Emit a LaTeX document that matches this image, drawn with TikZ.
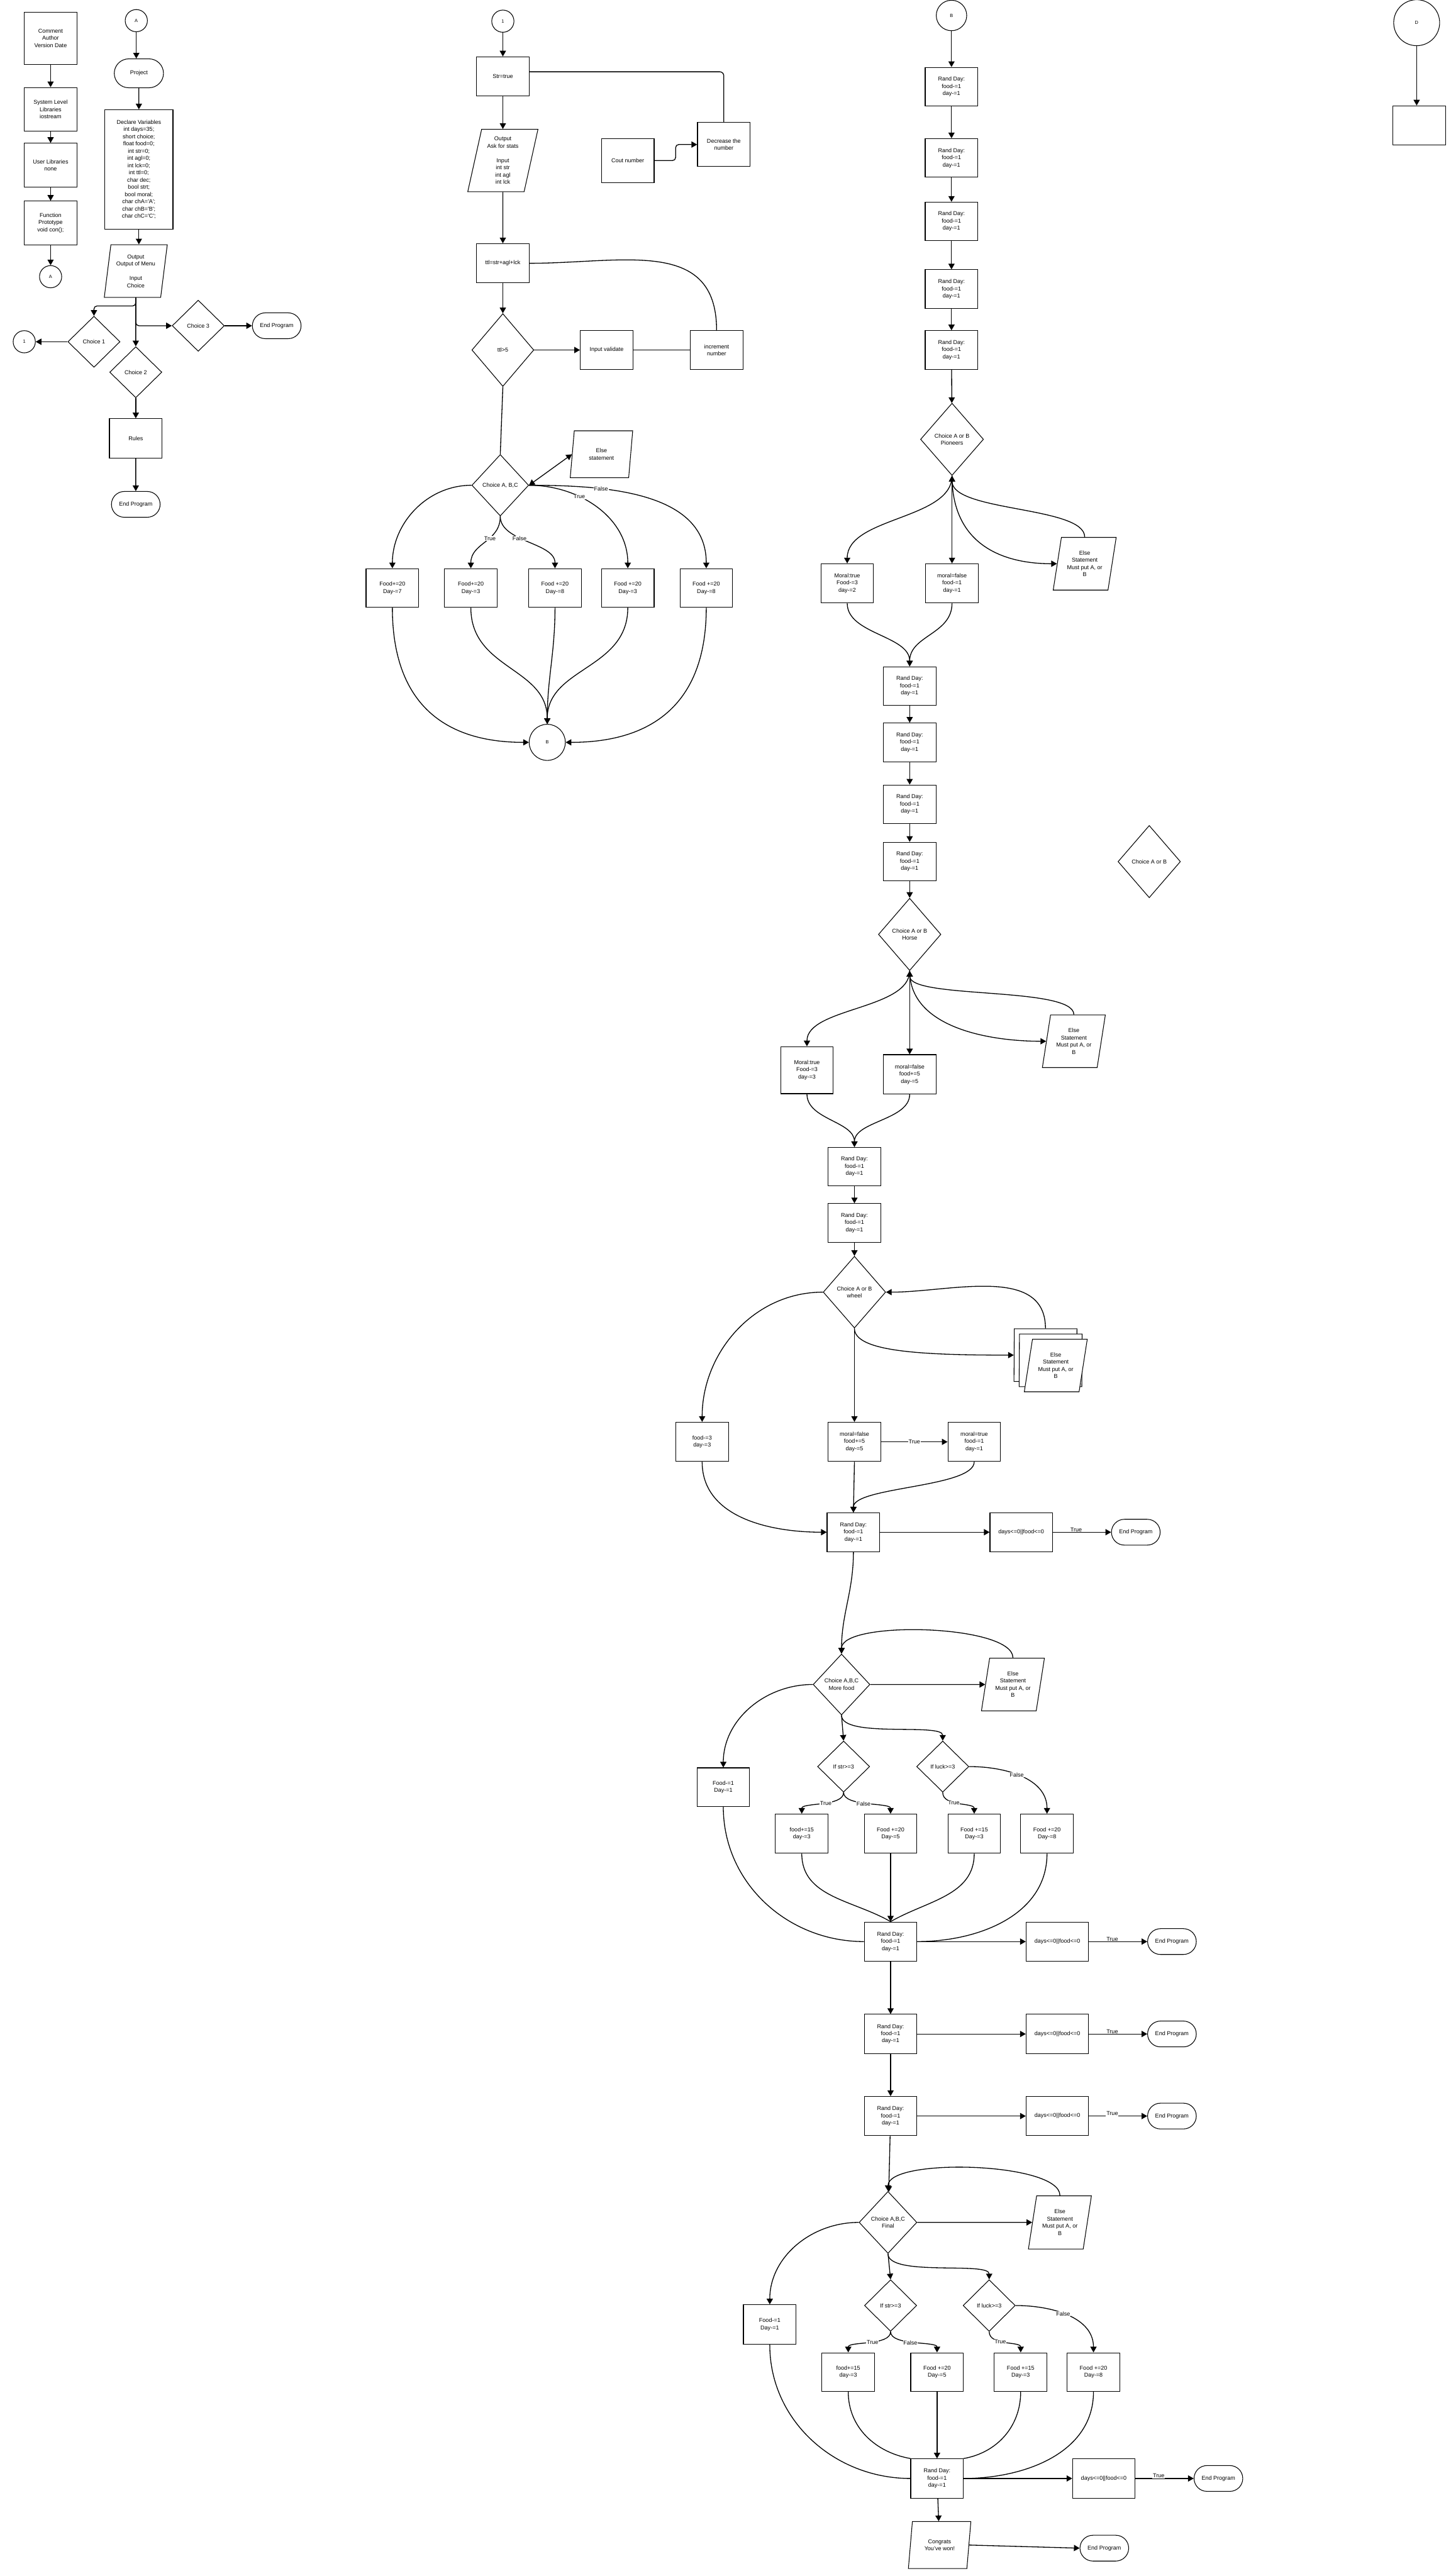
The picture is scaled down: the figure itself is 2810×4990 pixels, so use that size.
\documentclass[tikz,border=0pt]{standalone}
\usepackage{fontspec}
\setmainfont{Liberation Sans}
\usetikzlibrary{shapes.geometric,shapes.misc,arrows.meta}

\begin{document}
\begin{tikzpicture}[
  x=1pt, y=-1pt,
  font=\fontsize{11}{14}\selectfont,
  proc/.style={rectangle, draw, line width=1.3pt, align=center, inner sep=2pt, minimum width=102pt, minimum height=76pt},
  decis/.style={diamond, draw, line width=1.3pt, align=center, inner sep=0pt, minimum width=101pt, minimum height=99pt},
  io/.style={trapezium, trapezium left angle=73, trapezium right angle=107, trapezium stretches body, draw, line width=1.3pt, align=center, inner sep=1pt, minimum width=122pt, minimum height=102pt},
  term/.style={rounded rectangle, draw, line width=1.3pt, minimum width=101pt, minimum height=50pt},
  conn/.style={circle, draw, line width=1.3pt, inner sep=0pt, minimum size=43pt, font=\fontsize{9}{11}\selectfont},
  wire/.style={line width=1.6pt},
  arr/.style={wire, -{Triangle[length=11pt, width=12pt]}},
  arrb/.style={wire, {Triangle[length=11pt, width=12pt]}-{Triangle[length=11pt, width=12pt]}},
  lbl/.style={fill=white, inner sep=1pt}
]
\useasboundingbox (0,0) rectangle (2810,4990);

  % Program header (left column)
  \node[proc, minimum height=101pt] (cmt) at (98,74) {Comment\\Author\\Version Date};
  \node[proc, minimum height=85pt] (syslib) at (98,212) {System Level\\Libraries\\iostream};
  \node[proc, minimum height=85pt] (usrlib) at (98,320) {User Libraries\\none};
  \node[proc, minimum height=85pt] (proto) at (98,432) {Function\\Prototype\\void con();};
  \node[conn] (conA1) at (98,536) {A};

  % Main menu
  \node[conn] (conA2) at (264,40) {A};
  \node[term, minimum width=102pt, minimum height=56pt] (proj) at (269,142) {Project};
  \node[proc, minimum width=132pt, minimum height=231pt] (decl) at (269,328) {Declare Variables\\int days=35;\\short choice;\\float food=0;\\int str=0;\\int agl=0;\\int lck=0;\\int ttl=0;\\char dec;\\bool strt;\\bool moral;\\char chA=\textquotesingle A\textquotesingle;\\char chB=\textquotesingle B\textquotesingle;\\char chC=\textquotesingle C\textquotesingle;};
  \node[io, trapezium left angle=79, trapezium right angle=101] (menu) at (263,525) {Output\\Output of Menu\\[14pt]Input\\Choice};
  \node[decis] (ch1) at (182,662) {Choice 1};
  \node[conn] (con1) at (47,662) {1};
  \node[decis] (ch2) at (263,721) {Choice 2};
  \node[decis] (ch3) at (384,631) {Choice 3};
  \node[term] (endA) at (536,631) {End Program};
  \node[proc] (rules) at (263,849) {Rules};
  \node[term] (endB) at (263,977) {End Program};

  \draw[arr] (cmt) -- (syslib);
  \draw[arr] (syslib) -- (usrlib);
  \draw[arr] (usrlib) -- (proto);
  \draw[arr] (proto) -- (conA1);
  \draw[arr] (conA2) -- (conA2 |- proj.north);
  \draw[arr] (proj) -- (decl);
  \draw[arr] (decl) -- (decl |- menu.north);
  \draw[arr] (menu.south) -- (ch2.north);
  \draw[arr, rounded corners=6pt] (menu.south) -- ++(0,16) -| (ch1.north);
  \draw[arr, rounded corners=6pt] (menu.south) |- (ch3.west);
  \draw[arr] (ch1) -- (con1);
  \draw[arr] (ch3) -- (endA);
  \draw[arr] (ch2) -- (rules);
  \draw[arr] (rules) -- (endB);

  % Stats input
  \node[conn] (con1b) at (974,41) {1};
  \node[proc] (strt) at (974,148) {Str=true};
  \node[io, minimum width=136pt, minimum height=121pt, trapezium left angle=74, trapezium right angle=106] (ask) at (974,311) {Output\\Ask for stats\\[14pt]Input\\int str\\int agl\\int lck};
  \node[proc] (ttl) at (974,510) {ttl=str+agl+lck};
  \node[decis, minimum width=120pt, minimum height=141pt] (ttlchk) at (974,678) {ttl>5};
  \node[proc, minimum height=75pt] (valid) at (1175,678) {Input validate};
  \node[proc, minimum height=75pt] (incr) at (1388,678) {increment\\number};
  \node[proc, minimum height=85pt] (cout) at (1216,311) {Cout number};
  \node[proc, minimum height=85pt] (decr) at (1402,280) {Decrease the\\number};

  \draw[arr] (con1b) -- (strt);
  \draw[arr] (strt) -- (ask);
  \draw[arr] (ask) -- (ttl);
  \draw[arr] (ttl) -- (ttlchk);
  \draw[arr] (ttlchk) -- (valid);
  \draw[wire] (valid) -- (incr);
  \draw[wire] (ttl.east) to[out=0, in=90, looseness=1.2] (incr.north);
  \draw[arr, rounded corners=6pt] (cout.east) -- ++(41,0) |- (decr.west);
  \draw[wire, rounded corners=8pt] (decr.north) |- ([yshift=9pt]strt.east);

  % Choice A, B, C
  \node[decis, minimum width=110pt, minimum height=119pt] (chABC) at (969,940) {Choice A, B,C};
  \node[io, minimum width=121pt, minimum height=91pt, trapezium left angle=72, trapezium right angle=108] (else1) at (1165,880) {Else\\statement};
  \node[proc, minimum height=75pt] (f1) at (760,1139) {Food+=20\\Day-=7};
  \node[proc, minimum height=75pt] (f2) at (912,1139) {Food+=20\\Day-=3};
  \node[proc, minimum height=75pt] (f3) at (1075,1139) {Food +=20\\Day-=8};
  \node[proc, minimum height=75pt] (f4) at (1216,1139) {Food +=20\\Day-=3};
  \node[proc, minimum height=75pt] (f5) at (1368,1139) {Food +=20\\Day-=8};
  \node[conn, minimum size=70pt] (conBa) at (1060,1438) {B};

  \draw[wire] (ttlchk.south) -- (chABC.north);
  \draw[arrb] (chABC.east) -- (else1.west);
  \draw[arr] (chABC.west) to[out=180, in=90] (f1.north);
  \draw[arr] (chABC.south) .. controls +(0,50) and +(0,-50) .. node[lbl, pos=0.4] {True} (f2.north);
  \draw[arr] (chABC.south) .. controls +(0,50) and +(0,-50) .. node[lbl, pos=0.4] {False} (f3.north);
  \draw[arr] (chABC.east) to[out=0, in=90] node[lbl, pos=0.35] {True} (f4.north);
  \draw[arr] (chABC.east) to[out=0, in=90] node[lbl, pos=0.3] {False} (f5.north);
  \draw[arr] (f1.south) to[out=-90, in=180, looseness=1.2] (conBa.west);
  \draw[arr] (f5.south) to[out=-90, in=0, looseness=1.2] (conBa.east);
  \draw[arr] (f2.south) .. controls +(0,120) and +(0,-110) .. (conBa.north);
  \draw[arr] (f3.south) to[out=-90, in=90] (conBa.north);
  \draw[arr] (f4.south) .. controls +(0,120) and +(0,-110) .. (conBa.north);

  % Trail: pioneers
  \node[conn, minimum size=59pt] (conBb) at (1843,30) {B};
  \node[proc, minimum height=75pt] (rd1) at (1843,168) {Rand Day:\\food-=1\\day-=1};
  \node[proc, minimum height=75pt] (rd2) at (1843,306) {Rand Day:\\food-=1\\day-=1};
  \node[proc, minimum height=75pt] (rd3) at (1843,429) {Rand Day:\\food-=1\\day-=1};
  \node[proc, minimum height=75pt] (rd4) at (1843,560) {Rand Day:\\food-=1\\day-=1};
  \node[proc, minimum height=75pt] (rd5) at (1843,678) {Rand Day:\\food-=1\\day-=1};
  \node[decis, minimum width=122pt, minimum height=140pt] (pion) at (1844,851) {Choice A or B\\Pioneers};
  \node[proc] (mt1) at (1641,1130) {Moral:true\\Food-=3\\day-=2};
  \node[proc] (mf1) at (1844,1130) {moral=false\\food-=1\\day-=1};
  \node[io] (else2) at (2101,1092) {Else\\Statement\\Must put A, or\\B};

  \draw[arr] (conBb) -- (rd1);
  \draw[arr] (rd1) -- (rd2);
  \draw[arr] (rd2) -- (rd3);
  \draw[arr] (rd3) -- (rd4);
  \draw[arr] (rd4) -- (rd5);
  \draw[arr] (rd5) -- (pion);
  \draw[arr] (pion.south) .. controls +(0,85) and +(0,-90) .. (mt1.north);
  \draw[arrb] (pion.south) -- (mf1.north);
  \draw[arr] (pion.south) .. controls +(0,130) and +(-110,0) .. (else2.west);
  \draw[arr] (else2.north) .. controls +(0,-60) and +(0,70) .. (pion.south);

  % Trail: horse
  \node[proc, minimum height=75pt] (rd6) at (1762,1329) {Rand Day:\\food-=1\\day-=1};
  \node[proc, minimum height=75pt] (rd7) at (1762,1438) {Rand Day:\\food-=1\\day-=1};
  \node[proc, minimum height=75pt] (rd8) at (1762,1558) {Rand Day:\\food-=1\\day-=1};
  \node[proc, minimum height=75pt] (rd9) at (1762,1669) {Rand Day:\\food-=1\\day-=1};
  \node[decis, minimum width=121pt, minimum height=140pt] (horse) at (1762,1810) {Choice A or B\\Horse};
  \node[decis, minimum width=121pt, minimum height=140pt] (lone) at (2226,1669) {Choice A or B};
  \node[proc, minimum height=91pt] (mt2) at (1563,2073) {Moral:true\\Food-=3\\day-=3};
  \node[proc] (mf2) at (1762,2081) {moral=false\\food+=5\\day-=5};
  \node[io] (else3) at (2080,2017) {Else\\Statement\\Must put A, or\\B};

  \draw[arr] (mt1.south) .. controls +(0,60) and +(0,-60) .. (rd6.north);
  \draw[arr] (mf1.south) .. controls +(0,60) and +(0,-60) .. (rd6.north);
  \draw[arr] (rd6) -- (rd7);
  \draw[arr] (rd7) -- (rd8);
  \draw[arr] (rd8) -- (rd9);
  \draw[arr] (rd9) -- (horse);
  \draw[arr] (horse.south) .. controls +(0,75) and +(0,-75) .. (mt2.north);
  \draw[arrb] (horse.south) -- (mf2.north);
  \draw[arr] (horse.south) .. controls +(0,110) and +(-110,0) .. (else3.west);
  \draw[arr] (else3.north) .. controls +(0,-55) and +(0,55) .. (horse.south);

  % Trail: wheel
  \node[proc, minimum height=75pt] (rd10) at (1655,2260) {Rand Day:\\food-=1\\day-=1};
  \node[proc, minimum height=75pt] (rd11) at (1655,2369) {Rand Day:\\food-=1\\day-=1};
  \node[decis, minimum width=121pt, minimum height=139pt] (wheel) at (1655,2503) {Choice A or B\\wheel};
  \node[io, fill=white] (stk3) at (2025,2625) {};
  \node[io, fill=white] (stk2) at (2035,2635) {};
  \node[io, fill=white] (stk1) at (2045,2645) {Else\\Statement\\Must put A, or\\B};
  \node[proc] (fd3) at (1360,2793) {food-=3\\day-=3};
  \node[proc] (mf3) at (1655,2793) {moral=false\\food+=5\\day-=5};
  \node[proc] (mt3) at (1887,2793) {moral=true\\food-=1\\day-=1};

  \draw[arr] (mt2.south) .. controls +(0,50) and +(0,-50) .. (rd10.north);
  \draw[arr] (mf2.south) .. controls +(0,50) and +(0,-50) .. (rd10.north);
  \draw[arr] (rd10) -- (rd11);
  \draw[arr] (rd11) -- (wheel);
  \draw[arr] (wheel.west) to[out=180, in=90] (fd3.north);
  \draw[arr] (wheel.south) -- (mf3.north);
  \draw[arr] (wheel.south) .. controls +(0,45) and +(-180,0) .. (stk3.west);
  \draw[arr] (stk3.north) to[out=90, in=0] (wheel.east);
  \draw[arr] (mf3) -- node[lbl] {True} (mt3);

  % Day checks
  \node[proc, minimum height=75pt] (rd12) at (1653,2968) {Rand Day:\\food-=1\\day-=1};
  \node[proc, minimum width=121pt, minimum height=75pt] (days1) at (1978,2968) {days<=0||food<=0};
  \node[term] (end1) at (2200,2968) {End Program};

  \draw[arr] (fd3.south) to[out=-90, in=180] (rd12.west);
  \draw[arr] (mf3.south) -- (rd12.north);
  \draw[arr] (mt3.south) .. controls +(0,50) and +(0,-50) .. (rd12.north);
  \draw[arr] (rd12) -- (days1);
  \draw[arr] (days1) -- node[lbl, pos=0.4, yshift=5pt] {True} (end1);

  % More food
  \node[decis, minimum width=110pt, minimum height=118pt] (mfood) at (1630,3263) {Choice A,B,C\\More food};
  \node[io] (else4) at (1962,3263) {Else\\Statement\\Must put A, or\\B};
  \node[proc, minimum height=75pt] (fm1) at (1401,3462) {Food-=1\\Day-=1};
  \node[decis] (str1) at (1634,3422) {If str>=3};
  \node[decis] (lk1) at (1826,3422) {If luck>=3};
  \node[proc, minimum height=76pt] (s1) at (1553,3552) {food+=15\\day-=3};
  \node[proc, minimum height=76pt] (s2) at (1725,3552) {Food +=20\\Day-=5};
  \node[proc, minimum height=76pt] (s3) at (1887,3552) {Food +=15\\Day-=3};
  \node[proc, minimum height=76pt] (s4) at (2028,3552) {Food +=20\\Day-=8};

  \draw[arr] (rd12.south) to[out=-90, in=90] (mfood.north);
  \draw[arr] (mfood.east) -- (else4.west);
  \draw[arr] (else4.north) .. controls +(0,-65) and +(0,-65) .. (mfood.north);
  \draw[arr] (mfood.west) to[out=180, in=90] (fm1.north);
  \draw[arr] (mfood.south) -- (str1.north);
  \draw[arr] (mfood.south) .. controls +(0,45) and +(0,-35) .. (lk1.north);
  \draw[arr] (str1.south) .. controls +(0,28) and +(0,-22) .. node[lbl, pos=0.45] {True} (s1.north);
  \draw[arr] (str1.south) .. controls +(0,28) and +(0,-22) .. node[lbl, pos=0.45] {False} (s2.north);
  \draw[arr] (lk1.south) .. controls +(0,28) and +(0,-22) .. node[lbl, pos=0.4] {True} (s3.north);
  \draw[arr] (lk1.east) to[out=0, in=90] node[lbl, pos=0.45] {False} (s4.north);

  \node[proc, minimum height=76pt] (rd13) at (1725,3761) {Rand Day:\\food-=1\\day-=1};
  \node[proc, minimum width=121pt, minimum height=76pt] (days2) at (2048,3761) {days<=0||food<=0};
  \node[term] (end2) at (2270,3761) {End Program};
  \node[proc, minimum height=76pt] (rd14) at (1725,3940) {Rand Day:\\food-=1\\day-=1};
  \node[proc, minimum width=121pt, minimum height=76pt] (days3) at (2048,3940) {days<=0||food<=0};
  \node[term] (end3) at (2270,3940) {End Program};
  \node[proc, minimum height=76pt] (rd15) at (1725,4099) {Rand Day:\\food-=1\\day-=1};
  \node[proc, minimum width=121pt, minimum height=76pt] (days4) at (2048,4099) {days<=0||food<=0};
  \node[term] (end4) at (2270,4099) {End Program};

  \draw[wire] (fm1.south) to[out=-90, in=180] (rd13.west);
  \draw[wire] (s1.south) to[out=-90, in=150] (rd13.north);
  \draw[arr] (s2.south) -- (rd13.north);
  \draw[wire] (s3.south) to[out=-90, in=30] (rd13.north);
  \draw[wire] (s4.south) to[out=-90, in=0] (rd13.east);
  \draw[arr] (rd13) -- (days2);
  \draw[arr] (days2) -- node[lbl, pos=0.4, yshift=5pt] {True} (end2);
  \draw[arr] (rd13) -- (rd14);
  \draw[arr] (rd14) -- (days3);
  \draw[arr] (days3) -- node[lbl, pos=0.4, yshift=5pt] {True} (end3);
  \draw[arr] (rd14) -- (rd15);
  \draw[arr] (rd15) -- (days4);
  \draw[arr] (days4) -- node[lbl, pos=0.4, yshift=5pt] {True} (end4);

  % Final choice
  \node[decis, minimum width=112pt, minimum height=120pt] (final) at (1720,4305) {Choice A,B,C\\Final};
  \node[io, minimum height=103pt] (else5) at (2053,4305) {Else\\Statement\\Must put A, or\\B};
  \node[proc, minimum height=77pt] (fm2) at (1491,4503) {Food-=1\\Day-=1};
  \node[decis, minimum height=100pt] (str2) at (1725,4466) {If str>=3};
  \node[decis, minimum height=100pt] (lk2) at (1916,4466) {If luck>=3};
  \node[proc, minimum height=75pt] (t1) at (1643,4595) {food+=15\\day-=3};
  \node[proc, minimum height=75pt] (t2) at (1815,4595) {Food +=20\\Day-=5};
  \node[proc, minimum height=75pt] (t3) at (1977,4595) {Food +=15\\Day-=3};
  \node[proc, minimum height=75pt] (t4) at (2118,4595) {Food +=20\\Day-=8};
  \node[proc, minimum height=76pt] (rd16) at (1815,4801) {Rand Day:\\food-=1\\day-=1};
  \node[proc, minimum width=121pt, minimum height=76pt] (days5) at (2138,4801) {days<=0||food<=0};
  \node[term] (end5) at (2360,4801) {End Program};
  \node[io, minimum width=121pt, minimum height=91pt, trapezium left angle=72, trapezium right angle=108] (congr) at (1820,4930) {Congrats\\You've won!};
  \node[term] (end6) at (2139,4936) {End Program};

  \draw[arr] (rd15) -- (final);
  \draw[arr] (final.east) -- (else5.west);
  \draw[arr] (else5.north) .. controls +(0,-65) and +(0,-65) .. (final.north);
  \draw[arr] (final.west) to[out=180, in=90] (fm2.north);
  \draw[arr] (final.south) -- (str2.north);
  \draw[arr] (final.south) .. controls +(0,45) and +(0,-35) .. (lk2.north);
  \draw[arr] (str2.south) .. controls +(0,28) and +(0,-22) .. node[lbl, pos=0.45] {True} (t1.north);
  \draw[arr] (str2.south) .. controls +(0,28) and +(0,-22) .. node[lbl, pos=0.45] {False} (t2.north);
  \draw[arr] (lk2.south) .. controls +(0,28) and +(0,-22) .. node[lbl, pos=0.4] {True} (t3.north);
  \draw[arr] (lk2.east) to[out=0, in=90] node[lbl, pos=0.45] {False} (t4.north);
  \draw[wire] (fm2.south) to[out=-90, in=180] (rd16.west);
  \draw[wire] (t1.south) to[out=-90, in=170] (rd16.north west);
  \draw[arr] (t2.south) -- (rd16.north);
  \draw[wire] (t3.south) to[out=-90, in=10] (rd16.north east);
  \draw[wire] (t4.south) to[out=-90, in=0] (rd16.east);
  \draw[arr] (rd16) -- (days5);
  \draw[arr] (days5) -- node[lbl, pos=0.4, yshift=5pt] {True} (end5);
  \draw[arr] (rd16) -- (congr);
  \draw[arr] (congr.east) -- (end6.west);

  % Connector D
  \node[conn, minimum size=89pt] (conD) at (2744,44) {D};
  \node[proc] (blank) at (2749,243) {};
  \draw[arr] (conD) -- (conD |- blank.north);

\end{tikzpicture}
\end{document}
